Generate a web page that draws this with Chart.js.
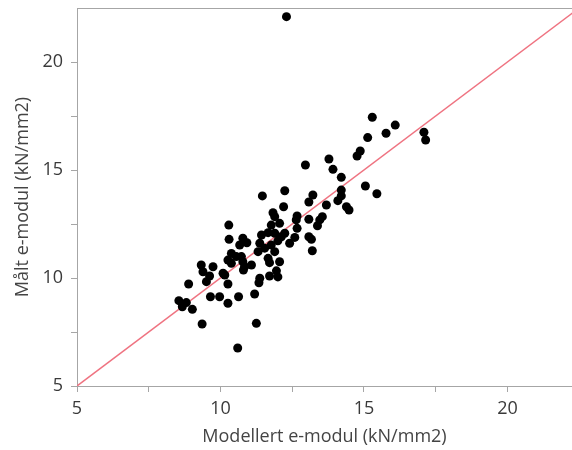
<!DOCTYPE html>
<html><head><meta charset="utf-8">
<script src="https://cdn.jsdelivr.net/npm/chart.js@4/dist/chart.umd.min.js"></script>
<style>html,body{margin:0;padding:0;background:#fff}#wrap{width:572px;height:450px;position:relative}</style>
</head><body><div id="wrap"><canvas id="c"></canvas></div>
<script>
const modelled = [15.29,16.09,15.77,17.09,17.15,15.13,14.87,14.76,12.96,13.78,13.92,14.21,15.05,15.45,12.24,13.22,14.21,14.21,14.09,13.08,13.69,14.39,14.48,12.20,11.83,11.89,12.06,12.67,12.64,12.67,13.55,13.46,13.38,13.08,13.08,13.17,13.20,12.41,12.59,11.46,10.29,10.30,10.78,10.92,10.67,11.43,11.66,11.89,12.00,11.37,11.54,11.31,11.77,11.89,10.38,10.55,10.26,10.38,10.73,10.78,10.84,11.08,11.66,11.71,9.33,9.39,9.74,10.09,9.62,11.95,12.00,11.37,11.71,9.51,10.15,10.26,8.89,11.34,11.19,8.55,8.81,8.67,9.02,9.65,9.97,10.26,10.63,9.36,11.25,10.60,11.77,12.24,12.06,10.80,12.12,12.30];
const measured = [17.44,17.08,16.70,16.75,16.39,16.50,15.88,15.65,15.23,15.51,15.03,14.66,14.26,13.90,14.04,13.84,14.07,13.80,13.58,13.52,13.38,13.30,13.15,13.30,13.02,12.84,12.53,12.87,12.69,12.30,12.84,12.69,12.42,12.72,11.91,11.79,11.26,11.61,11.88,13.80,12.45,11.79,11.84,11.63,11.53,11.99,12.10,12.07,11.72,11.61,11.38,11.22,11.53,11.22,11.14,10.99,10.83,10.68,10.99,10.75,10.52,10.60,10.91,10.71,10.60,10.29,10.52,10.22,10.09,10.33,10.05,9.99,10.09,9.83,10.14,9.72,9.72,9.78,9.26,8.95,8.86,8.67,8.55,9.13,9.13,8.83,9.13,7.87,7.90,6.76,12.45,12.07,10.75,10.37,11.91,22.10];
const identityLine = [5, 23];
const xTickValues = [5, 7.5, 10, 12.5, 15, 17.5, 20];
const yTickValues = [5, 7.5, 10, 12.5, 15, 17.5, 20];
const xTitle = 'Modellert e-modul (kN/mm2)';
const yTitle = 'Målt e-modul (kN/mm2)';

const pts = modelled.map((x, i) => ({x: x, y: measured[i]}));
const linePts = identityLine.map(v => ({x: v, y: v}));
const FONT = '"Open Sans", "DejaVu Sans", sans-serif';

const frame = {
  id: 'frame',
  beforeDatasetsDraw(chart) {
    const {ctx, chartArea: a} = chart;
    ctx.save();
    ctx.strokeStyle = '#a6a6a6';
    ctx.lineWidth = 1;
    ctx.beginPath();
    ctx.moveTo(a.left, a.top + 0.5);
    ctx.lineTo(a.right, a.top + 0.5);
    ctx.stroke();
    ctx.restore();
  }
};

new Chart(document.getElementById('c'), {
  type: 'scatter',
  data: {
    datasets: [
      {type: 'line', data: linePts, borderColor: '#ef7381', borderWidth: 1.5, pointRadius: 0, fill: false, order: 2},
      {data: pts, backgroundColor: '#000', borderColor: '#000', pointRadius: 4.5, pointHoverRadius: 4.5, borderWidth: 0, order: 1}
    ]
  },
  options: {
    responsive: true, maintainAspectRatio: false, animation: false,
    layout: {autoPadding: false, padding: {top: 8, right: 0, left: 0, bottom: 0}},
    plugins: {legend: {display: false}, tooltip: {enabled: false}},
    scales: {
      x: {
        type: 'linear', min: 5, max: 22.25,
        afterBuildTicks: s => { s.ticks = xTickValues.map(v => ({value: v})); },
        afterFit: s => { s.height = 64; s.paddingLeft = 0; s.paddingRight = 0; },
        ticks: {callback: v => (v % 5 === 0 ? String(v) : ''), color: '#3a3a3a', font: {family: FONT, size: 18}, padding: 6, maxRotation: 0, autoSkip: false},
        grid: {drawOnChartArea: false, drawTicks: true, tickLength: 6, tickColor: '#a6a6a6'},
        border: {color: '#a6a6a6', width: 1},
        title: {display: true, text: xTitle, color: '#444', font: {family: FONT, size: 18}, padding: {top: 0, bottom: 2}}
      },
      y: {
        type: 'linear', min: 5, max: 22.5,
        afterBuildTicks: s => { s.ticks = yTickValues.map(v => ({value: v})); },
        afterFit: s => { s.width = 77; s.paddingTop = 0; s.paddingBottom = 0; },
        ticks: {callback: v => (v % 5 === 0 ? String(v) : ''), color: '#3a3a3a', font: {family: FONT, size: 18}, padding: 8, autoSkip: false},
        grid: {drawOnChartArea: false, drawTicks: true, tickLength: 6, tickColor: '#a6a6a6'},
        border: {color: '#a6a6a6', width: 1},
        title: {display: true, text: yTitle, color: '#444', font: {family: FONT, size: 18}, padding: {top: 12, bottom: 0}}
      }
    }
  },
  plugins: [frame]
});
</script>
</body></html>
